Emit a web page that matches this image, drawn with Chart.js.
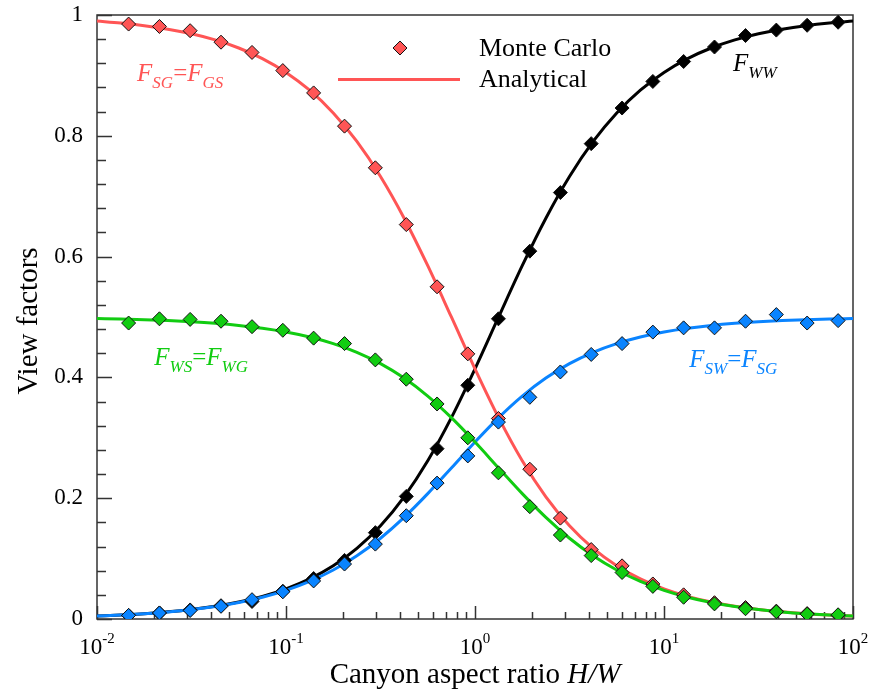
<!DOCTYPE html>
<html>
<head>
<meta charset="utf-8">
<script src="https://cdn.jsdelivr.net/npm/chart.js@4.4.1/dist/chart.umd.min.js"></script>
<style>
  html, body { margin: 0; padding: 0; background: #ffffff; }
  canvas { display: block; }
</style>
</head>
<body>
<canvas id="c" width="875" height="696"></canvas>
<script>
// ---------- data ----------
// Analytical curves, sampled every 1/8 decade of H/W
const curveX = [0.01, 0.013335, 0.017783, 0.023714, 0.031623, 0.04217, 0.056234, 0.074989,
  0.1, 0.13335, 0.17783, 0.23714, 0.31623, 0.4217, 0.56234, 0.74989,
  1, 1.3335, 1.7783, 2.3714, 3.1623, 4.217, 5.6234, 7.4989,
  10, 13.335, 17.783, 23.714, 31.623, 42.17, 56.234, 74.989, 100];
const curveSG = [0.99005, 0.98675, 0.98238, 0.97657, 0.96888, 0.95872, 0.94535, 0.92782,
  0.90499, 0.87550, 0.83786, 0.79060, 0.73258, 0.66358, 0.58493, 0.50004,
  0.41421, 0.33330, 0.26189, 0.20223, 0.15435, 0.11695, 0.08822, 0.06638,
  0.04988, 0.03744, 0.02809, 0.02108, 0.01581, 0.01186, 0.00889, 0.00667, 0.00500];
const curveWW = [0.00500, 0.00667, 0.00889, 0.01186, 0.01581, 0.02108, 0.02809, 0.03744,
  0.04988, 0.06638, 0.08822, 0.11695, 0.15435, 0.20223, 0.26189, 0.33330,
  0.41421, 0.50004, 0.58493, 0.66358, 0.73258, 0.79060, 0.83786, 0.87550,
  0.90499, 0.92782, 0.94535, 0.95872, 0.96888, 0.97657, 0.98238, 0.98675, 0.99005];
const curveSW = [0.00498, 0.00663, 0.00881, 0.01172, 0.01556, 0.02064, 0.02733, 0.03609,
  0.04751, 0.06225, 0.08107, 0.10470, 0.13371, 0.16821, 0.20754, 0.24998,
  0.29290, 0.33335, 0.36906, 0.39889, 0.42283, 0.44153, 0.45589, 0.46681,
  0.47506, 0.48128, 0.48596, 0.48946, 0.49210, 0.49407, 0.49556, 0.49667, 0.49750];
const curveWS = [0.49750, 0.49667, 0.49556, 0.49407, 0.49210, 0.48946, 0.48596, 0.48128,
  0.47506, 0.46681, 0.45589, 0.44153, 0.42283, 0.39889, 0.36906, 0.33335,
  0.29290, 0.24998, 0.20754, 0.16821, 0.13371, 0.10470, 0.08107, 0.06225,
  0.04751, 0.03609, 0.02733, 0.02064, 0.01556, 0.01172, 0.00881, 0.00663, 0.00498];

// Monte Carlo points
const mcX = [0.0147, 0.0214, 0.0311, 0.0453, 0.0661, 0.0962, 0.140, 0.204, 0.297, 0.433, 0.630, 0.916,
  1.33, 1.95, 2.83, 4.12, 6.00, 8.73, 12.7, 18.5, 27.0, 39.3, 57.2, 83.4];
const mcSG = [0.985, 0.981, 0.974, 0.955, 0.938, 0.908, 0.871, 0.816, 0.747, 0.653, 0.550, 0.439,
  0.332, 0.248, 0.167, 0.115, 0.088, 0.058, 0.040, 0.027, 0.019, 0.013, 0.009, 0.006];
const mcWW = [0.006, 0.010, 0.015, 0.022, 0.029, 0.046, 0.067, 0.097, 0.143, 0.203, 0.282, 0.387,
  0.497, 0.609, 0.706, 0.787, 0.846, 0.890, 0.923, 0.947, 0.966, 0.975, 0.983, 0.988];
const mcSW = [0.006, 0.010, 0.014, 0.021, 0.032, 0.045, 0.063, 0.091, 0.124, 0.171, 0.225, 0.270,
  0.326, 0.367, 0.409, 0.438, 0.456, 0.475, 0.482, 0.482, 0.493, 0.504, 0.490, 0.494];
const mcWS = [0.490, 0.497, 0.496, 0.493, 0.484, 0.478, 0.465, 0.456, 0.429, 0.397, 0.356, 0.300,
  0.242, 0.186, 0.139, 0.105, 0.077, 0.054, 0.036, 0.025, 0.017, 0.012, 0.008, 0.007];

// Tick labels
const xTickValues = [0.01, 0.1, 1, 10, 100];
const xTickBase = '10';
const xTickExponents = ['-2', '-1', '0', '1', '2'];
const yTickValues = [0, 0.2, 0.4, 0.6, 0.8, 1];
const yTickLabels = ['0', '0.2', '0.4', '0.6', '0.8', '1'];

// Texts
const xTitle = [['Canyon aspect ratio ', ''], ['H/W', 'italic']];
const yTitle = 'View factors';
const legendLabels = ['Monte Carlo', 'Analytical'];

// ---------- styling ----------
const FONT = '"Liberation Serif", "Times New Roman", serif';
const RED = '#ff5555', BLACK = '#000000', GREEN = '#11cc11', BLUE = '#0a84ff';

const pts = (xs, ys) => xs.map((x, i) => ({ x: x, y: ys[i] }));

function lineSet(label, ys, color, order) {
  return { type: 'line', label, data: pts(curveX, ys), borderColor: color, borderWidth: 3,
    pointRadius: 0, fill: false, cubicInterpolationMode: 'monotone', order };
}
function mcSet(label, ys, color, order) {
  return { type: 'line', label, data: pts(mcX, ys), showLine: false, pointStyle: 'rectRot',
    pointRadius: 7, pointHoverRadius: 7, pointBackgroundColor: color, pointBorderColor: '#111',
    pointBorderWidth: 1, borderColor: color, order };
}

function drawRich(ctx, parts, x, y) {
  for (const p of parts) {
    ctx.font = (p.style || '') + ' ' + p.size + 'px ' + FONT;
    ctx.fillText(p.t, x, y + (p.dy || 0));
    x += ctx.measureText(p.t).width;
  }
}
function richWidth(ctx, parts) {
  let w = 0;
  for (const p of parts) { ctx.font = (p.style || '') + ' ' + p.size + 'px ' + FONT; w += ctx.measureText(p.t).width; }
  return w;
}
function fLabel(a, b) {
  const parts = [{ t: 'F', size: 25, style: 'italic' }, { t: a, size: 17, style: 'italic', dy: 7 }];
  if (b) parts.push({ t: '=', size: 25 }, { t: 'F', size: 25, style: 'italic' }, { t: b, size: 17, style: 'italic', dy: 7 });
  return parts;
}
const annotations = [
  { x: 0.0163, y: 0.890, color: RED, parts: fLabel('SG', 'GS') },
  { x: 23.2, y: 0.908, color: BLACK, parts: fLabel('WW') },
  { x: 0.0201, y: 0.421, color: GREEN, parts: fLabel('WS', 'WG') },
  { x: 13.6, y: 0.417, color: BLUE, parts: fLabel('SW', 'SG') }
];

const deco = {
  id: 'deco',
  beforeDatasetsDraw(chart) {
    const { ctx, chartArea: a, scales: { x, y } } = chart;
    ctx.save();
    ctx.strokeStyle = '#333';
    ctx.lineWidth = 1.5;
    ctx.strokeRect(a.left, a.top, a.right - a.left, a.bottom - a.top);
    ctx.beginPath();
    for (let e = -2; e <= 2; e++) {
      for (let m = 1; m <= 9; m++) {
        const v = m * Math.pow(10, e);
        if (v > 100.0001) break;
        const px = Math.round(x.getPixelForValue(v)) + 0.5;
        const len = m === 1 ? 13 : 7;
        ctx.moveTo(px, a.bottom); ctx.lineTo(px, a.bottom - len);
      }
    }
    for (let i = 0; i <= 25; i++) {
      const py = Math.round(y.getPixelForValue(i * 0.04)) + 0.5;
      const len = i % 5 === 0 ? 15 : 9;
      ctx.moveTo(a.left, py); ctx.lineTo(a.left + len, py);
    }
    ctx.stroke();
    // x tick labels: 10 with superscript exponent
    ctx.fillStyle = '#000';
    ctx.textBaseline = 'alphabetic';
    ctx.textAlign = 'left';
    xTickValues.forEach((v, i) => {
      const parts = [{ t: xTickBase, size: 23 }, { t: xTickExponents[i], size: 15, dy: -11 }];
      const w = richWidth(ctx, parts);
      drawRich(ctx, parts, x.getPixelForValue(v) - w / 2, 654);
    });
    ctx.restore();
  },
  afterDatasetsDraw(chart) {
    const { ctx, chartArea: a, scales: { x, y } } = chart;
    ctx.save();
    ctx.textBaseline = 'alphabetic';
    ctx.textAlign = 'left';
    // curve labels
    for (const an of annotations) {
      ctx.fillStyle = an.color;
      drawRich(ctx, an.parts, x.getPixelForValue(an.x), y.getPixelForValue(an.y));
    }
    // legend
    ctx.fillStyle = RED; ctx.strokeStyle = '#111'; ctx.lineWidth = 1;
    ctx.beginPath();
    const cx = 400, cy = 48, r = 7;
    ctx.moveTo(cx, cy - r); ctx.lineTo(cx + r, cy); ctx.lineTo(cx, cy + r); ctx.lineTo(cx - r, cy); ctx.closePath();
    ctx.fill(); ctx.stroke();
    ctx.strokeStyle = RED; ctx.lineWidth = 3;
    ctx.beginPath(); ctx.moveTo(338, 79.5); ctx.lineTo(460, 79.5); ctx.stroke();
    ctx.fillStyle = '#000';
    ctx.font = '26px ' + FONT;
    ctx.fillText(legendLabels[0], 479, 56);
    ctx.fillText(legendLabels[1], 479, 87);
    // x axis title
    const parts = xTitle.map(p => ({ t: p[0], size: 29, style: p[1] }));
    const w = richWidth(ctx, parts);
    drawRich(ctx, parts, (a.left + a.right) / 2 - w / 2, 683);
    // y axis title
    ctx.translate(37, 321);
    ctx.rotate(-Math.PI / 2);
    ctx.textAlign = 'center';
    ctx.font = '29px ' + FONT;
    ctx.fillText(yTitle, 0, 0);
    ctx.restore();
  }
};

Chart.defaults.font.family = FONT;
Chart.defaults.color = '#000';

new Chart(document.getElementById('c'), {
  type: 'line',
  data: {
    datasets: [
      mcSet('F_WS MC', mcWS, GREEN, 1),
      mcSet('F_SW MC', mcSW, BLUE, 2),
      mcSet('F_SG MC', mcSG, RED, 3),
      mcSet('F_WW MC', mcWW, BLACK, 4),
      lineSet('F_WS', curveWS, GREEN, 5),
      lineSet('F_SW', curveSW, BLUE, 6),
      lineSet('F_SG', curveSG, RED, 7),
      lineSet('F_WW', curveWW, BLACK, 8)
    ]
  },
  options: {
    responsive: false,
    animation: false,
    layout: { padding: { top: 15, right: 22, left: 0, bottom: 0 } },
    plugins: { legend: { display: false }, tooltip: { enabled: false } },
    scales: {
      x: {
        type: 'logarithmic', min: 0.01, max: 100,
        afterFit: s => { s.height = 77; s.paddingLeft = 0; s.paddingRight = 0; },
        afterBuildTicks: s => { s.ticks = xTickValues.map(v => ({ value: v })); },
        ticks: { display: false },
        grid: { display: false, drawTicks: false },
        border: { display: false }
      },
      y: {
        type: 'linear', min: 0, max: 1,
        afterFit: s => { s.width = 97; s.paddingTop = 0; s.paddingBottom = 0; },
        afterBuildTicks: s => { s.ticks = yTickValues.map(v => ({ value: v })); },
        ticks: {
          padding: 14, font: { size: 23 }, color: '#000',
          callback: (v) => { const i = yTickValues.findIndex(t => Math.abs(t - v) < 1e-6); return i >= 0 ? yTickLabels[i] : ''; }
        },
        grid: { display: false, drawTicks: false },
        border: { display: false }
      }
    }
  },
  plugins: [deco]
});
</script>
</body>
</html>
